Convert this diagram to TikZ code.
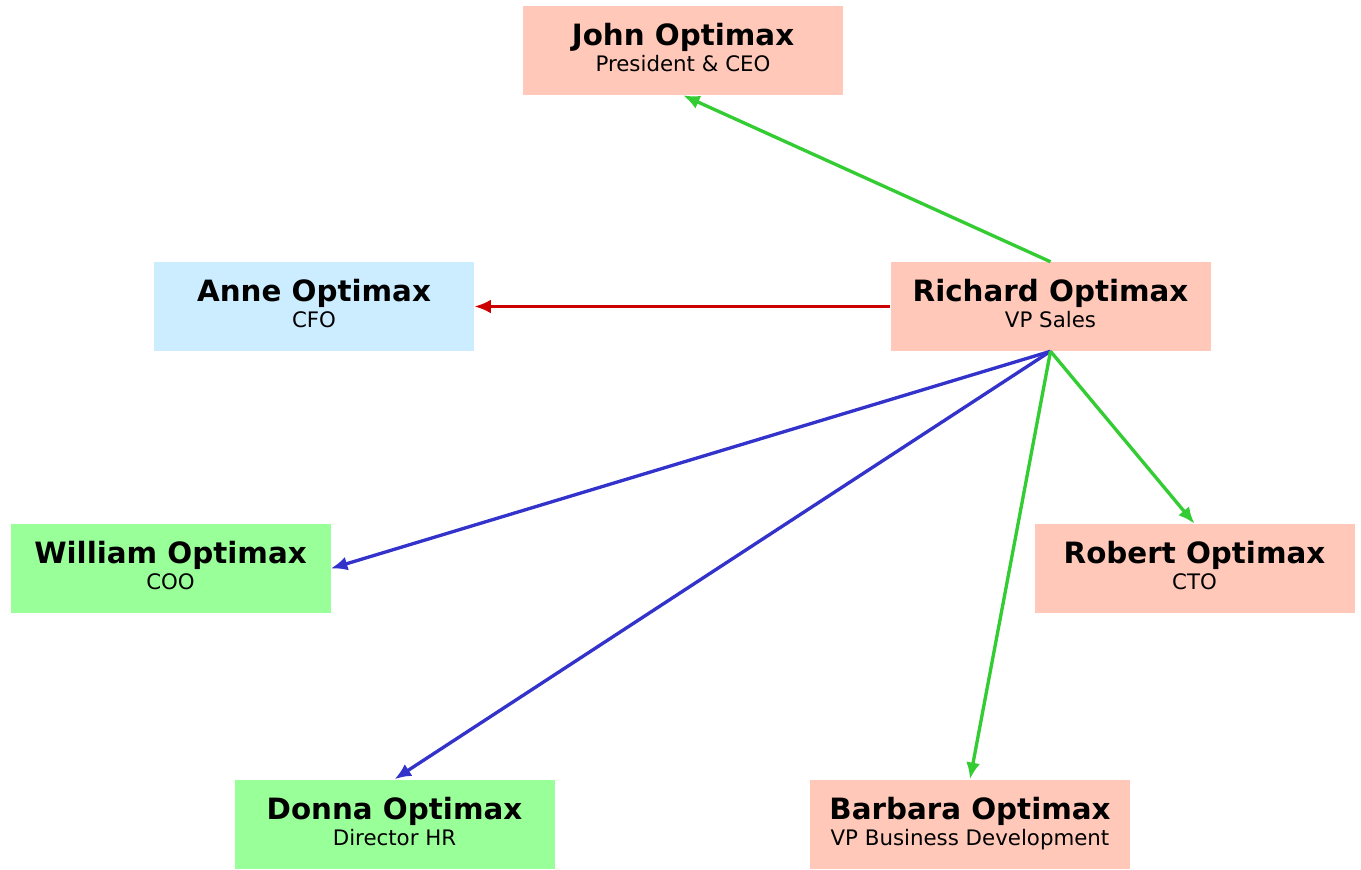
\documentclass[tikz,border=0pt]{standalone}
\usepackage{fontspec}
\setmainfont{DejaVu Sans}
\usetikzlibrary{arrows.meta}
\definecolor{salmon}{HTML}{FFC8B9}
\definecolor{lblue}{HTML}{CCECFF}
\definecolor{lgreen}{HTML}{99FF99}
\definecolor{egreen}{HTML}{33CC33}
\definecolor{ered}{HTML}{CC0000}
\definecolor{eblue}{HTML}{3333CC}
\tikzset{
  person/.style={minimum width=240pt, minimum height=66.75pt, inner sep=0pt, align=center, draw=none,
    font=\fontsize{16}{19.5}\selectfont},
  link/.style={line width=2.5pt, -{Latex[length=12.5pt,width=10.5pt]}},
}
\newcommand{\pname}[2]{{\fontsize{22}{19.5}\selectfont\bfseries #1}\\{#2}\rule[-4.5pt]{0pt}{0pt}}
\begin{document}
\begin{tikzpicture}[x=0.75pt,y=-0.75pt]
\useasboundingbox (0,0) rectangle (1361,869);
\node[person, fill=salmon] (john) at (683,50.5) {\pname{John Optimax}{President \& CEO}};
\node[person, fill=lblue] (anne) at (314,306.5) {\pname{Anne Optimax}{CFO}};
\node[person, fill=salmon] (richard) at (1050.5,306.5) {\pname{Richard Optimax}{VP Sales}};
\node[person, fill=lgreen] (william) at (170.5,568.5) {\pname{William Optimax}{COO}};
\node[person, fill=salmon] (robert) at (1194.5,568.5) {\pname{Robert Optimax}{CTO}};
\node[person, fill=lgreen] (donna) at (394.5,824) {\pname{Donna Optimax}{Director HR}};
\node[person, fill=salmon] (barbara) at (970,824) {\pname{Barbara Optimax}{VP Business Development}};
\draw[link, egreen] (richard.north) -- (john.south);
\draw[link, ered] (richard.west) -- (anne.east);
\draw[link, eblue] (richard.south) -- (william.east);
\draw[link, eblue] (richard.south) -- (donna.north);
\draw[link, egreen] (richard.south) -- (barbara.north);
\draw[link, egreen] (richard.south) -- (robert.north);
\end{tikzpicture}
\end{document}
